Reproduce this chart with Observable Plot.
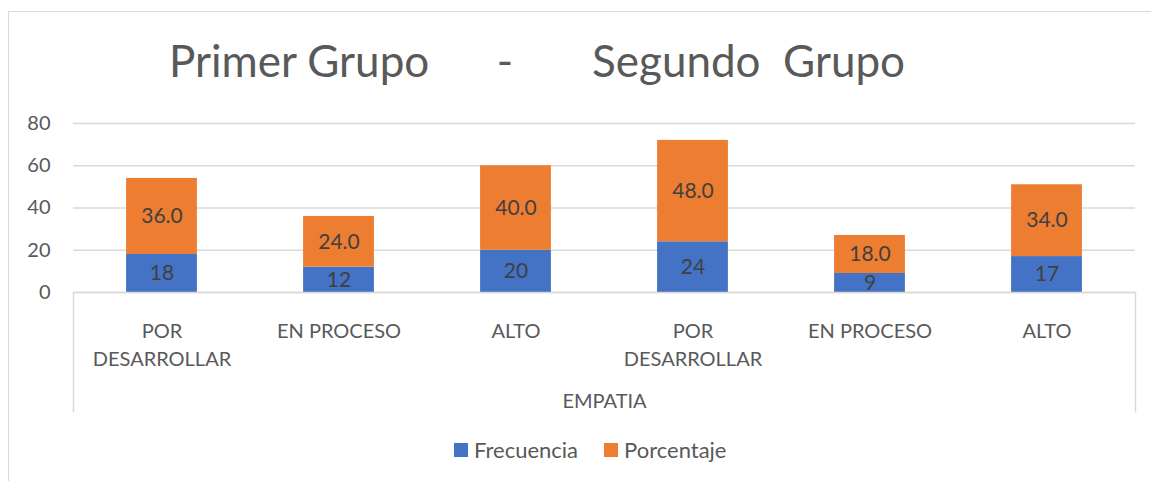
<!DOCTYPE html>
<html>
<head>
<meta charset="utf-8">
<script src="https://cdn.jsdelivr.net/npm/d3@7"></script>
<script src="https://cdn.jsdelivr.net/npm/@observablehq/plot@0.6"></script>
<style>
  html, body { margin: 0; padding: 0; background: #fff; }
  body { font-family: Lato, "Open Sans", sans-serif; color: #595959; }
  #wrap { position: relative; width: 1151px; height: 481px; overflow: hidden; }
  #frame { position: absolute; left: 8px; top: 11px; width: 1400px; height: 700px; border: 1px solid #d9d9d9; box-sizing: border-box; }
  #title { position: absolute; left: 0; top: 31px; width: 1074px; text-align: center; font-size: 44px; line-height: 58px; white-space: pre; color: #595959; }
  #chart { position: absolute; left: 0; top: 95px; }
  #legend { position: absolute; left: 454px; top: 437px; display: flex; align-items: center; font-size: 22px; color: #595959; line-height: 26px; }
  .item { display: flex; align-items: center; margin-right: 26px; }
  .sw { width: 14px; height: 14px; margin-right: 6px; }
</style>
</head>
<body>
<div id="wrap">
  <div id="frame"></div>
  <div id="title"></div>
  <div id="chart"></div>
  <div id="legend"></div>
</div>
<script>
// ---- data ----
const titleText = "Primer Grupo      -       Segundo  Grupo";
const categories = ["POR\nDESARROLLAR", "EN PROCESO", "ALTO", "POR\nDESARROLLAR", "EN PROCESO", "ALTO"];
const frecuencia = [18, 12, 20, 24, 9, 17];
const porcentaje = [36.0, 24.0, 40.0, 48.0, 18.0, 34.0];
const groupLabel = "EMPATIA";
const seriesNames = ["Frecuencia", "Porcentaje"];
const seriesColors = ["#4472C4", "#ED7D31"];
const yTicks = [0, 20, 40, 60, 80];

// ---- table ----
const rows = [];
categories.forEach((c, i) => {
  rows.push({i, cat: c, series: seriesNames[0], y1: 0, y2: frecuencia[i], label: String(frecuencia[i])});
  rows.push({i, cat: c, series: seriesNames[1], y1: frecuencia[i], y2: frecuencia[i] + porcentaje[i], label: porcentaje[i].toFixed(1)});
});

document.getElementById("title").textContent = titleText;

const boxDepth = -57; // how far the category box lines extend below zero (in y units)

const chart = Plot.plot({
  width: 1151,
  height: 330,
  marginLeft: 73,
  marginRight: 16,
  marginTop: 28,
  marginBottom: 133,
  style: {fontFamily: "Lato, 'Open Sans', sans-serif", fontSize: "20px", color: "#595959", background: "transparent"},
  x: {domain: [0, categories.length], axis: null},
  y: {domain: [0, 80], axis: null},
  color: {domain: seriesNames, range: seriesColors},
  marks: [
    Plot.gridY(yTicks, {stroke: "#d9d9d9", strokeOpacity: 1, strokeWidth: 1.3}),
    Plot.rectY(rows, {x1: d => d.i + 0.3, x2: d => d.i + 0.7, y1: "y1", y2: "y2", fill: "series"}),
    Plot.text(rows, {x: d => d.i + 0.5, y: d => (d.y1 + d.y2) / 2, text: "label", fill: "#404040", fontSize: 21}),
    Plot.ruleY([0], {stroke: "#d9d9d9", strokeWidth: 1.5}),
    Plot.ruleX([0, categories.length], {y1: 0, y2: boxDepth, stroke: "#d9d9d9", strokeWidth: 1.5}),
    Plot.axisY(yTicks, {tickSize: 0, tickPadding: 23, fontSize: 20, fill: "#595959", label: null}),
    Plot.text(categories, {x: (d, i) => i + 0.5, frameAnchor: "bottom", lineAnchor: "top", dy: 26, lineHeight: 1.4, fontSize: 20, fill: "#595959"}),
    Plot.text([groupLabel], {frameAnchor: "bottom", lineAnchor: "top", dy: 101, fontSize: 20, fill: "#595959"})
  ]
});
document.getElementById("chart").appendChild(chart);

const legend = document.getElementById("legend");
seriesNames.forEach((s, k) => {
  const it = document.createElement("div");
  it.className = "item";
  const sw = document.createElement("div");
  sw.className = "sw";
  sw.style.background = seriesColors[k];
  const t = document.createElement("span");
  t.textContent = s;
  it.appendChild(sw); it.appendChild(t);
  legend.appendChild(it);
});
</script>
</body>
</html>
